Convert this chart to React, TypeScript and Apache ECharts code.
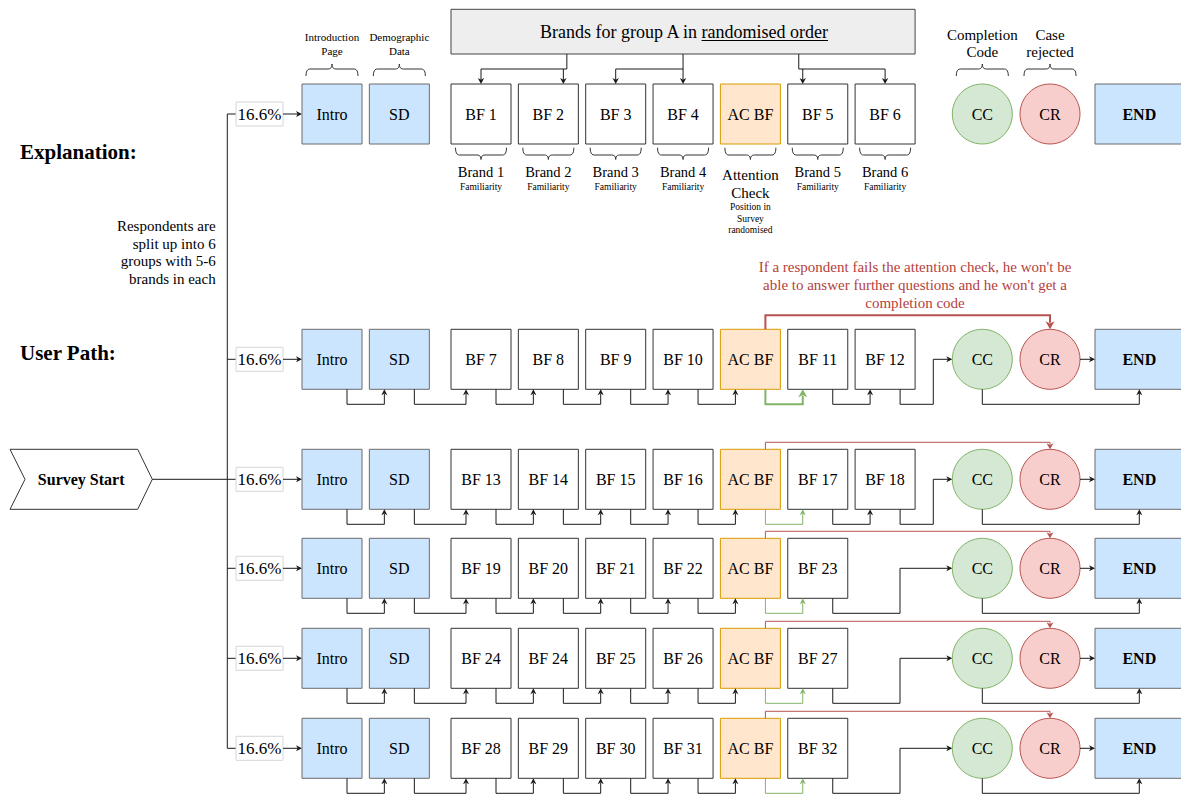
import React, { useEffect, useRef } from "react";
import * as echarts from "echarts";

// ---------- data ----------
const groupBrands: string[][] = [
  ["BF 1", "BF 2", "BF 3", "BF 4", "BF 5", "BF 6"],
  ["BF 7", "BF 8", "BF 9", "BF 10", "BF 11", "BF 12"],
  ["BF 13", "BF 14", "BF 15", "BF 16", "BF 17", "BF 18"],
  ["BF 19", "BF 20", "BF 21", "BF 22", "BF 23"],
  ["BF 24", "BF 24", "BF 25", "BF 26", "BF 27"],
  ["BF 28", "BF 29", "BF 30", "BF 31", "BF 32"],
];
const groupShares = ["16.6%", "16.6%", "16.6%", "16.6%", "16.6%", "16.6%"];
const brandsBeforeCheck = 4;
const stageNodes = ["Intro", "SD"];
const attentionNode = "AC BF";
const outcomeNodes = ["CC", "CR", "END"];
const stageCaptions = [["Introduction", "Page"], ["Demographic", "Data"]];
const outcomeCaptions = [["Completion", "Code"], ["Case", "rejected"]];
const brandCaptions = ["Brand 1", "Brand 2", "Brand 3", "Brand 4", "Brand 5", "Brand 6"];
const brandSubCaption = "Familiarity";
const checkCaption = ["Attention", "Check"];
const checkSubCaption = ["Position in", "Survey", "randomised"];
const headerParts = ["Brands for group A in ", "randomised order"];
const sectionTitles = ["Explanation:", "User Path:"];
const splitNote = ["Respondents are", "split up into 6", "groups with 5-6", "brands in each"];
const failNote = [
  "If a respondent fails the attention check, he won't be",
  "able to answer further questions and he won't get a",
  "completion code",
];
const startLabel = "Survey Start";

// ---------- layout & style ----------
const W = 1181;
const H = 796;
const FONT = "'Liberation Serif','Times New Roman',Times,serif";
const L = {
  rowY: [114, 359.3, 479.3, 568.3, 658.3, 748.3],
  half: 30,
  stageX0: 302,
  brandX0: 451,
  pitch: 67.35,
  ccX: 982.3,
  crX: 1050,
  endX0: 1095,
  endX1: 1184,
  endC: 1139.3,
  trunkX: 227.3,
  tagX0: 236,
  tagX1: 283,
  tagH: 24,
};
const C = {
  line: "#1a1a1a",
  box: "#333333",
  blueFill: "#cce5ff",
  blueStroke: "#6b6b6b",
  acFill: "#ffe6cc",
  acStroke: "#d79b00",
  ccFill: "#d5e8d4",
  ccStroke: "#82b366",
  crFill: "#f8cecc",
  crStroke: "#b85450",
  red: "#b85450",
  green: "#82b366",
  text: "#000000",
  note: "#b5413c",
};

type Spec = any;

function arrow(x: number, y: number, dir: string, len: number, hw: number, color: string): Spec {
  const n = len * 0.28;
  let pts: number[][] = [];
  if (dir === "right") pts = [[x, y], [x - len, y - hw], [x - len + n, y], [x - len, y + hw]];
  if (dir === "up") pts = [[x, y], [x - hw, y + len], [x, y + len - n], [x + hw, y + len]];
  if (dir === "down") pts = [[x, y], [x - hw, y - len], [x, y - len + n], [x + hw, y - len]];
  return { k: "poly", pts, fill: color };
}

function brace(x0: number, x1: number, yEnd: number, yMid: number, yTip: number): number[][] {
  const cx = (x0 + x1) / 2;
  const r = 4;
  const pts: number[][] = [];
  const quad = (p0: number[], c: number[], p1: number[]) => {
    for (let i = 0; i <= 6; i++) {
      const t = i / 6, u = 1 - t;
      pts.push([
        u * u * p0[0] + 2 * u * t * c[0] + t * t * p1[0],
        u * u * p0[1] + 2 * u * t * c[1] + t * t * p1[1],
      ]);
    }
  };
  quad([x0, yEnd], [x0, yMid], [x0 + r, yMid]);
  quad([cx - r, yMid], [cx, yMid], [cx, yTip]);
  quad([cx, yTip], [cx, yMid], [cx + r, yMid]);
  quad([x1 - r, yMid], [x1, yMid], [x1, yEnd]);
  return pts;
}

function text(x: number, y: number, t: string, size: number, opts: any = {}): Spec {
  return { k: "text", x, y, text: t, size, ...opts };
}

function buildSpecs(w1: number, w2: number): Spec[] {
  const S: Spec[] = [];
  const colL = (k: number) => L.brandX0 + k * L.pitch;
  const colC = (k: number) => colL(k) + L.half;
  const stL = (i: number) => L.stageX0 + i * L.pitch;
  const stC = (i: number) => stL(i) + L.half;
  const h = L.half;

  // Section titles and notes
  S.push(text(20, 151.7, sectionTitles[0], 21, { weight: "bold", align: "left" }));
  S.push(text(20, 353.3, sectionTitles[1], 21, { weight: "bold", align: "left" }));
  splitNote.forEach((t, i) => S.push(text(215.7, 226 + i * 17.6, t, 15, { align: "right" })));
  failNote.forEach((t, i) => S.push(text(915, 267.3 + i * 18, t, 15, { color: C.note })));

  // Survey start chevron
  const sy = L.rowY[2];
  S.push({
    k: "poly",
    pts: [[10, sy - 30], [137.7, sy - 30], [152.3, sy], [137.7, sy + 30], [10, sy + 30], [25, sy]],
    fill: "#ffffff",
    stroke: C.box,
    lw: 1,
  });
  S.push(text(81.2, sy, startLabel, 16, { weight: "bold" }));
  S.push({ k: "line", pts: [[152.3, sy], [L.trunkX, sy]], stroke: C.line, lw: 1 });
  S.push({ k: "line", pts: [[L.trunkX, L.rowY[0]], [L.trunkX, L.rowY[5]]], stroke: C.line, lw: 1 });

  // Header box
  const hx0 = colL(0), hx1 = colL(6) + 2 * h;
  S.push({ k: "rect", x0: hx0, y0: 9.3, x1: hx1, y1: 54, fill: "#eeeeee", stroke: "#444444", lw: 1 });
  const hc = (hx0 + hx1) / 2;
  const split = hc - (w1 + w2) / 2 + w1;
  S.push(text(split, 32, headerParts[0], 18, { align: "right" }));
  S.push(text(split, 32, headerParts[1], 18, { align: "left" }));
  S.push({ k: "line", pts: [[split, 40.5], [split + w2, 40.5]], stroke: "#000", lw: 1 });
  const feeds = [
    { stem: colC(1) + 18.5, targets: [colC(0), colC(1) + 15] },
    { stem: colC(3), targets: [colC(2), colC(3)] },
    { stem: colC(5) - 19, targets: [colC(5) - 15, colC(6)] },
  ];
  const topY = L.rowY[0] - h;
  feeds.forEach((f) => {
    S.push({ k: "line", pts: [[f.stem, 54], [f.stem, 69]], stroke: C.line, lw: 1 });
    const xs = [f.stem, ...f.targets];
    S.push({ k: "line", pts: [[Math.min(...xs), 69], [Math.max(...xs), 69]], stroke: C.line, lw: 1 });
    f.targets.forEach((t) => {
      S.push({ k: "line", pts: [[t, 69], [t, topY - 4]], stroke: C.line, lw: 1 });
      S.push(arrow(t, topY, "down", 6, 3.2, C.line));
    });
  });

  // Rows
  groupBrands.forEach((brands, r) => {
    const cy = L.rowY[r];
    // share tag
    S.push({ k: "line", pts: [[L.trunkX, cy], [L.tagX0, cy]], stroke: C.line, lw: 1 });
    S.push({ k: "rect", x0: L.tagX0, y0: cy - L.tagH / 2, x1: L.tagX1, y1: cy + L.tagH / 2, fill: "#ffffff", stroke: "#d6d6d6", lw: 1 });
    S.push(text((L.tagX0 + L.tagX1) / 2, cy, groupShares[r], 17));
    S.push({ k: "line", pts: [[L.tagX1, cy], [stL(0) - 4, cy]], stroke: C.line, lw: 1 });
    S.push(arrow(stL(0), cy, "right", 6, 3, C.line));

    // stage boxes
    stageNodes.forEach((name, i) => {
      S.push({ k: "rect", x0: stL(i), y0: cy - h, x1: stL(i) + 2 * h, y1: cy + h, fill: C.blueFill, stroke: C.blueStroke, lw: 1 });
      S.push(text(stC(i), cy, name, 16));
    });

    // brand sequence
    const seq = [...brands.slice(0, brandsBeforeCheck), attentionNode, ...brands.slice(brandsBeforeCheck)];
    const acIdx = brandsBeforeCheck;
    seq.forEach((name, k) => {
      const isAc = k === acIdx;
      S.push({
        k: "rect", x0: colL(k), y0: cy - h, x1: colL(k) + 2 * h, y1: cy + h,
        fill: isAc ? C.acFill : "#ffffff", stroke: isAc ? C.acStroke : C.box, lw: 1,
      });
      S.push(text(colC(k), cy, name, 16));
    });

    // outcomes
    S.push({ k: "circle", cx: L.ccX, cy, r: h, fill: C.ccFill, stroke: C.ccStroke, lw: 1 });
    S.push(text(L.ccX, cy, outcomeNodes[0], 16));
    S.push({ k: "circle", cx: L.crX, cy, r: h, fill: C.crFill, stroke: C.crStroke, lw: 1 });
    S.push(text(L.crX, cy, outcomeNodes[1], 16));
    S.push({ k: "rect", x0: L.endX0, y0: cy - h, x1: L.endX1, y1: cy + h, fill: C.blueFill, stroke: C.blueStroke, lw: 1 });
    S.push(text(L.endC, cy, outcomeNodes[2], 16, { weight: "bold" }));

    if (r === 0) {
      // captions & braces
      stageNodes.forEach((_, i) => {
        S.push({ k: "line", pts: brace(stL(i) + 4, stL(i) + 2 * h - 4, 76, 69, 64), stroke: C.box, lw: 1 });
        stageCaptions[i].forEach((t, j) => S.push(text(stC(i), 36.7 + j * 14, t, 11)));
      });
      [L.ccX, L.crX].forEach((x, i) => {
        S.push({ k: "line", pts: brace(x - 26, x + 26, 76, 69, 64), stroke: C.box, lw: 1 });
        outcomeCaptions[i].forEach((t, j) => S.push(text(x, 34.7 + j * 17.6, t, 15)));
      });
      let bi = 0;
      seq.forEach((_, k) => {
        S.push({ k: "line", pts: brace(colL(k) + 4.5, colL(k) + 2 * h - 4.5, 147.7, 155, 159.5), stroke: C.box, lw: 1 });
        if (k === acIdx) {
          checkCaption.forEach((t, j) => S.push(text(colC(k), 175 + j * 17.7, t, 15)));
          checkSubCaption.forEach((t, j) => S.push(text(colC(k), 207 + j * 11.5, t, 9.5)));
        } else {
          S.push(text(colC(k), 172.3, brandCaptions[bi], 14.5));
          S.push(text(colC(k), 187, brandSubCaption, 9.5));
          bi++;
        }
      });
      return;
    }

    // connectors
    const thick = r === 1;
    const centers = [stC(0), stC(1), ...seq.map((_, k) => colC(k))];
    const yb = cy + h, yl = cy + h + 15;
    for (let i = 0; i < centers.length - 1; i++) {
      const fromAc = i - 2 === acIdx;
      const col = fromAc ? C.green : C.line;
      const lw = fromAc && thick ? 2 : 1;
      const len = fromAc && thick ? 8 : 6;
      const hw = fromAc && thick ? 4.5 : 3;
      const x0 = centers[i] + 15, x1 = centers[i + 1] - 15;
      S.push({ k: "line", pts: [[x0, yb], [x0, yl], [x1, yl], [x1, yb + len - 1.5]], stroke: col, lw });
      S.push(arrow(x1, yb, "up", len, hw, col));
    }
    // last brand -> CC
    const lastX = centers[centers.length - 1] + 15;
    const elbow = seq.length === 7 ? 933.3 : 900;
    S.push({ k: "line", pts: [[lastX, yb], [lastX, yl], [elbow, yl], [elbow, cy], [L.ccX - h - 4, cy]], stroke: C.line, lw: 1 });
    S.push(arrow(L.ccX - h, cy, "right", 6, 3, C.line));
    // CC -> END
    S.push({ k: "line", pts: [[L.ccX, yb], [L.ccX, yl], [L.endC, yl], [L.endC, yb + 4]], stroke: C.line, lw: 1 });
    S.push(arrow(L.endC, yb, "up", 6, 3, C.line));
    // CR -> END
    S.push({ k: "line", pts: [[L.crX + h, cy], [L.endX0 - 4, cy]], stroke: C.line, lw: 1 });
    S.push(arrow(L.endX0, cy, "right", 6, 3, C.line));
    // AC -> CR (fail)
    const ax = colC(acIdx) + 15;
    const yt = cy - h;
    const yr = thick ? cy - 44 : cy - 37;
    const rlen = thick ? 8 : 6;
    S.push({ k: "line", pts: [[ax, yt], [ax, yr], [L.crX, yr], [L.crX, yt - rlen + 1.5]], stroke: C.red, lw: thick ? 2 : 1 });
    S.push(arrow(L.crX, yt, "down", rlen, thick ? 4.5 : 3.5, C.red));
  });

  return S;
}

function renderSpec(s: Spec, api: any): any {
  const P = (x: number, y: number) => api.coord([x, y]);
  if (s.k === "rect") {
    const a = P(s.x0, s.y0), b = P(s.x1, s.y1);
    return {
      type: "rect",
      shape: { x: Math.min(a[0], b[0]), y: Math.min(a[1], b[1]), width: Math.abs(b[0] - a[0]), height: Math.abs(b[1] - a[1]) },
      style: { fill: s.fill, stroke: s.stroke, lineWidth: s.lw },
    };
  }
  if (s.k === "circle") {
    const c = P(s.cx, s.cy);
    const r = api.size([s.r, 0])[0];
    return { type: "circle", shape: { cx: c[0], cy: c[1], r }, style: { fill: s.fill, stroke: s.stroke, lineWidth: s.lw } };
  }
  if (s.k === "line") {
    return {
      type: "polyline",
      shape: { points: s.pts.map((p: number[]) => P(p[0], p[1])) },
      style: { stroke: s.stroke, lineWidth: s.lw, fill: null },
    };
  }
  if (s.k === "poly") {
    return {
      type: "polygon",
      shape: { points: s.pts.map((p: number[]) => P(p[0], p[1])) },
      style: { fill: s.fill, stroke: s.stroke || null, lineWidth: s.lw || 0 },
    };
  }
  const c = P(s.x, s.y);
  return {
    type: "text",
    style: {
      text: s.text,
      x: c[0],
      y: c[1],
      fill: s.color || C.text,
      font: `${s.weight || "normal"} ${s.size}px ${FONT}`,
      align: s.align || "center",
      verticalAlign: "middle",
    },
  };
}

export default function App() {
  const ref = useRef<HTMLDivElement>(null);
  useEffect(() => {
    if (!ref.current) return;
    const chart = echarts.init(ref.current, null, { renderer: "svg" });
    const cv = document.createElement("canvas").getContext("2d");
    let w1 = 161, w2 = 126.5;
    if (cv) {
      cv.font = `18px ${FONT}`;
      w1 = cv.measureText(headerParts[0]).width;
      w2 = cv.measureText(headerParts[1]).width;
    }
    const specs = buildSpecs(w1, w2);
    chart.setOption({
      animation: false,
      backgroundColor: "#ffffff",
      grid: { left: 0, right: 0, top: 0, bottom: 0 },
      xAxis: { type: "value", min: 0, max: W, show: false },
      yAxis: { type: "value", min: 0, max: H, inverse: true, show: false },
      series: [
        {
          type: "custom",
          coordinateSystem: "cartesian2d",
          clip: false,
          silent: true,
          data: specs.map((_, i) => [i, 0]),
          renderItem: (params: any, api: any) => renderSpec(specs[params.dataIndex], api),
        },
      ],
    });
    return () => chart.dispose();
  }, []);
  return <div ref={ref} style={{ position: "fixed", left: 0, top: 0, width: W, height: H, background: "#fff" }} />;
}
